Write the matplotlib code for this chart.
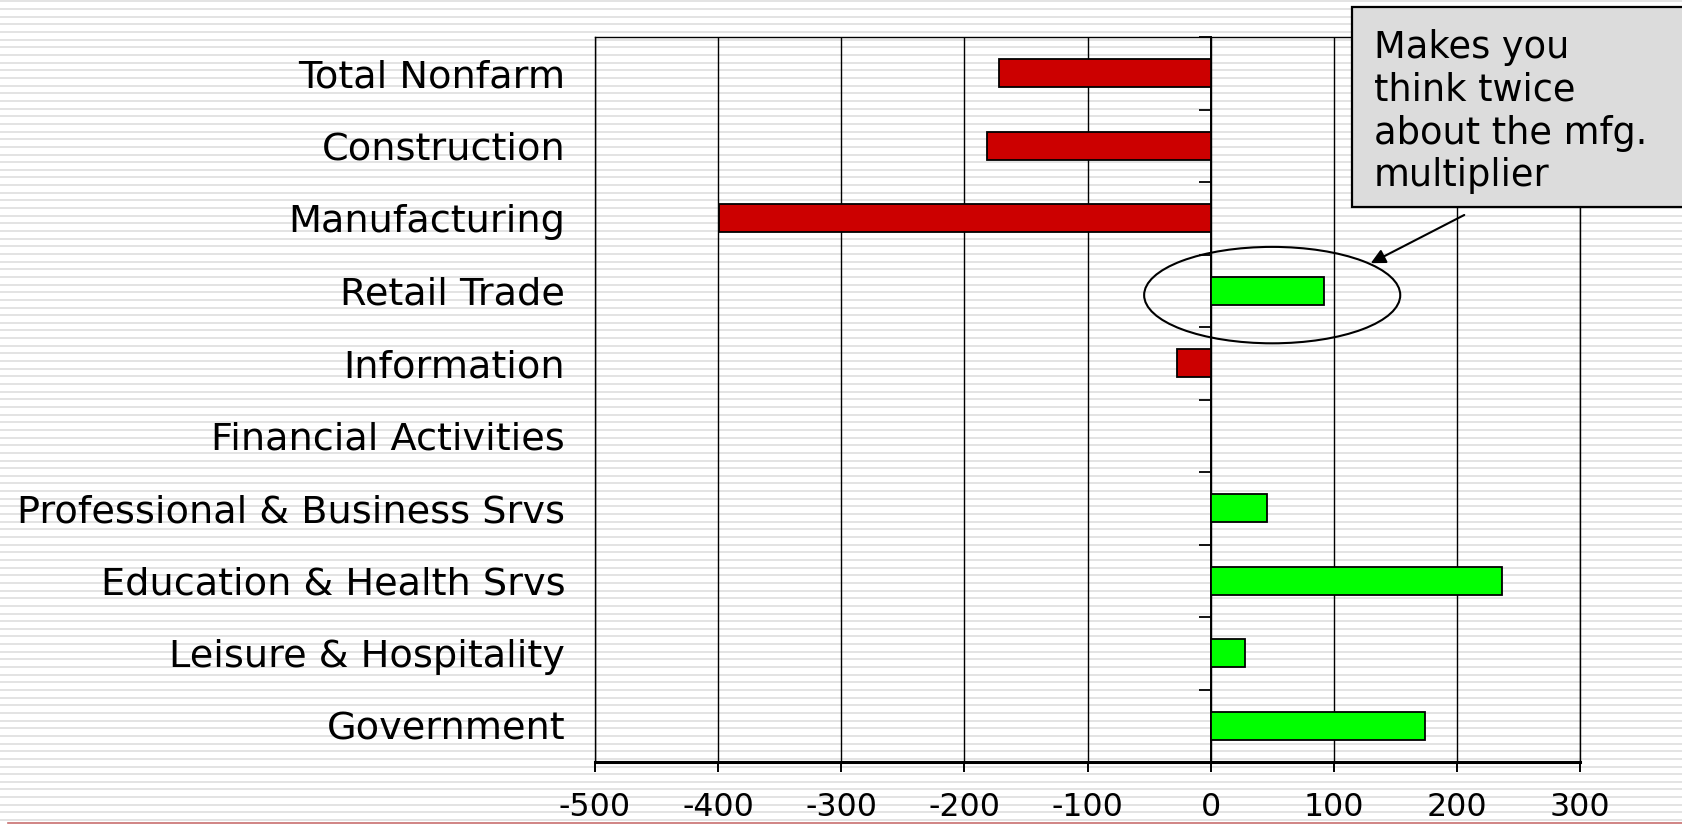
import numpy as np
import matplotlib
matplotlib.use('Agg')
import matplotlib.pyplot as plt
from matplotlib.patches import Ellipse, Rectangle
from matplotlib.lines import Line2D

# job changes by sector (thousands)
categories = ['Total Nonfarm', 'Construction', 'Manufacturing', 'Retail Trade',
              'Information', 'Financial Activities', 'Professional & Business Srvs',
              'Education & Health Srvs', 'Leisure & Hospitality', 'Government']
values = [-172, -182, -399, 92, -27, 0, 46, 237, 28, 174]
xticks = [-500, -400, -300, -200, -100, 0, 100, 200, 300]
note = 'Makes you\nthink twice\nabout the mfg.\nmultiplier'

W, H = 1683, 824
fig = plt.figure(figsize=(W / 100, H / 100), dpi=100)
fig.patch.set_facecolor('white')

# striped slide background
rows = np.arange(H)
stripe = np.where((rows % 7.65) < 2.0, 0.89, 1.0)
bg = np.tile(stripe[:, None], (1, W))
fig.figimage(bg, cmap='gray', vmin=0, vmax=1, zorder=-1, origin='upper')

ax = fig.add_axes([595 / W, 1 - 762 / H, (1580 - 595) / W, (762 - 37) / H])
ax.set_facecolor('none')

y = np.arange(len(categories))
colors = ['#cc0000' if v < 0 else '#00ff00' for v in values]
ax.barh(y, values, height=0.385, color=colors, edgecolor='black', linewidth=1.3, zorder=3)

ax.set_xlim(-500, 300)
ax.set_ylim(len(categories) - 0.5, -0.5)
ax.set_xticks(xticks)
ax.set_xticklabels([str(t) for t in xticks], fontsize=22.8)
ax.set_yticks(y)
ax.set_yticklabels(categories, fontsize=27.5)
ax.tick_params(axis='y', length=0, pad=21.5)
ax.tick_params(axis='x', direction='out', length=7.2, width=1.4, pad=14.5)
ax.xaxis.grid(True, color='black', linewidth=1.0)
ax.set_axisbelow(True)
for s in ax.spines.values():
    s.set_linewidth(1.0)
ax.spines['bottom'].set_linewidth(2.2)

# category axis drawn at zero with boundary ticks
zero_pos = (0 - xticks[0]) / (xticks[-1] - xticks[0])
sec = ax.secondary_yaxis(zero_pos)
sec.set_alignment('left')
sec.set_yticks(np.arange(-0.5, len(categories), 1))
sec.set_yticklabels([])
sec.tick_params(direction='out', length=8.6, width=1.3)
sec.spines['left'].set_linewidth(1.4)

# highlight retail trade
ax.add_patch(Ellipse((50, 3.06), 208, 1.33, fill=False, edgecolor='black',
                     linewidth=1.5, zorder=4, clip_on=False))
ax.annotate('', xy=(130, 2.62), xytext=(206, 1.955), annotation_clip=False,
            arrowprops=dict(arrowstyle='-|>', color='black', lw=1.5,
                            mutation_scale=22, shrinkA=0, shrinkB=0), zorder=6)

# callout box
fig.add_artist(Rectangle((1352 / W, 1 - 207 / H), (W + 10 - 1352) / W, 200 / H,
                         transform=fig.transFigure, facecolor='#dcdcdc',
                         edgecolor='black', linewidth=1.6, zorder=5, clip_on=False))
fig.text(1374 / W, 1 - 29 / H, note, fontsize=26.5, va='top', ha='left',
         linespacing=1.2, zorder=6)

fig.add_artist(Line2D([8 / W, 1], [0.8 / H, 0.8 / H], transform=fig.transFigure,
                      color='#c87070', linewidth=1.2))

fig.savefig('out.png', dpi=100)
